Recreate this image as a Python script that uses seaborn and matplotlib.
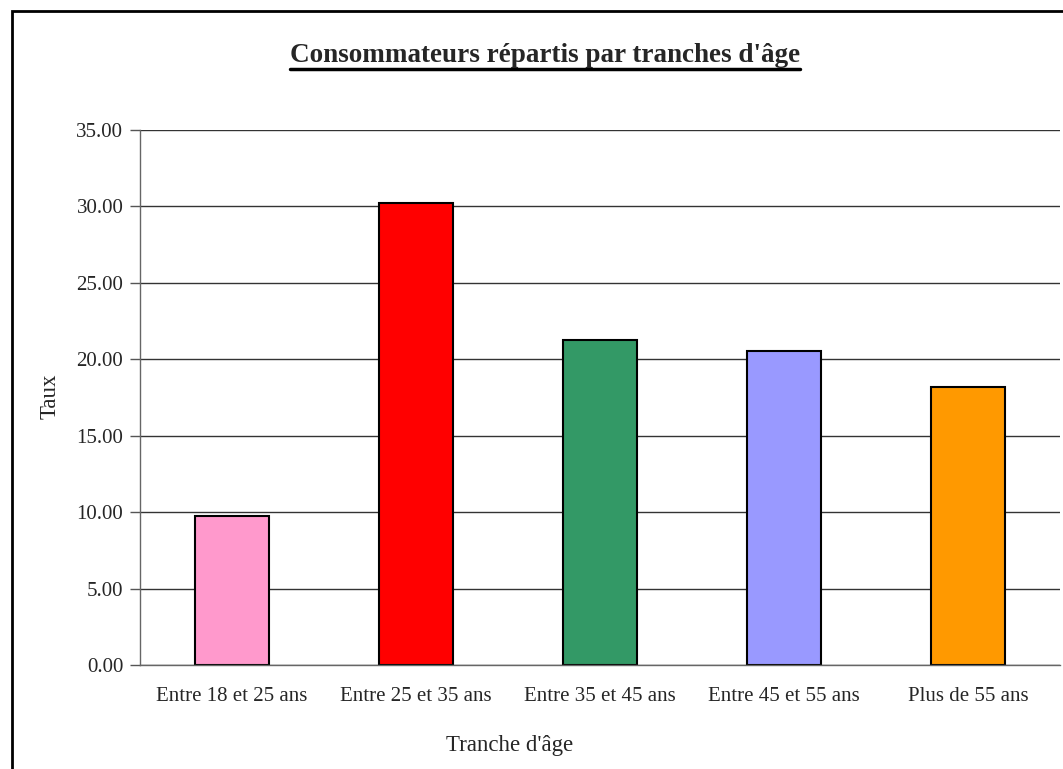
import matplotlib
matplotlib.use('Agg')
import matplotlib.pyplot as plt
import seaborn as sns
import pandas as pd
from matplotlib.patches import Rectangle
from matplotlib.lines import Line2D

# Data
tranches = ['Entre 18 et 25 ans', 'Entre 25 et 35 ans', 'Entre 35 et 45 ans',
            'Entre 45 et 55 ans', 'Plus de 55 ans']
taux = [9.75, 30.22, 21.26, 20.54, 18.18]
couleurs = ['#FF99CC', '#FF0000', '#339966', '#9999FF', '#FF9900']

df = pd.DataFrame({'tranche': tranches, 'taux': taux})

sns.set_style('white')
plt.rcParams['font.family'] = ['Liberation Serif', 'DejaVu Serif']

fig = plt.figure(figsize=(10.63, 7.69), dpi=100)
ax = fig.add_axes([140 / 1063, 1 - 665 / 769, 920 / 1063, 535 / 769])

sns.barplot(data=df, x='tranche', y='taux', hue='tranche', palette=couleurs,
            saturation=1, width=0.4, edgecolor='black', linewidth=1.5,
            legend=False, ax=ax)

ax.set_ylim(0, 35)
ax.set_yticks([0, 5, 10, 15, 20, 25, 30, 35])
ax.set_yticklabels([f'{v:.2f}' for v in ax.get_yticks()])
ax.set_xlim(-0.5, len(tranches) - 0.5)
ax.yaxis.grid(True, color='#333333', linewidth=1)
ax.set_axisbelow(True)

# category boundary ticks like Excel
ax.set_xticks(range(len(tranches)))
ax.set_xticklabels(tranches)
ax.tick_params(axis='x', length=0, labelsize=15, pad=16)
ax.set_xticks([i - 0.5 for i in range(len(tranches) + 1)], minor=True)
ax.tick_params(axis='x', which='minor', length=6, color='#555555', width=1, direction='out')
ax.tick_params(axis='y', length=7, color='#555555', width=1, labelsize=15, pad=5, left=True)

for s in ['top', 'right']:
    ax.spines[s].set_visible(False)
for s in ['left', 'bottom']:
    ax.spines[s].set_color('#666666')
    ax.spines[s].set_linewidth(1)

ax.set_xlabel("Tranche d'âge", fontsize=16.5)
ax.set_ylabel('Taux', fontsize=16.5)
ax.xaxis.set_label_coords(0.402, -0.151)
ax.yaxis.set_label_coords(-0.098, 0.503)
ax.xaxis.label.set_va('center')
ax.yaxis.label.set_va('center')

t = fig.text(545 / 1063, 1 - 56 / 769, "Consommateurs répartis par tranches d'âge",
             ha='center', va='center', fontsize=19.5, fontweight='bold')

# underline the title
fig.canvas.draw()
bb = t.get_window_extent().transformed(fig.transFigure.inverted())
fig.add_artist(Line2D([bb.x0, bb.x1], [bb.y0 - 0.001, bb.y0 - 0.001],
                      transform=fig.transFigure, color='black', linewidth=2.5))

# chart border (right and bottom run off the picture)
fig.add_artist(Rectangle((12 / 1063, -0.05), 1.1, 1 - 11 / 769 + 0.05,
                         transform=fig.transFigure, fill=False,
                         edgecolor='black', linewidth=2))

fig.savefig('out.png', dpi=100)
